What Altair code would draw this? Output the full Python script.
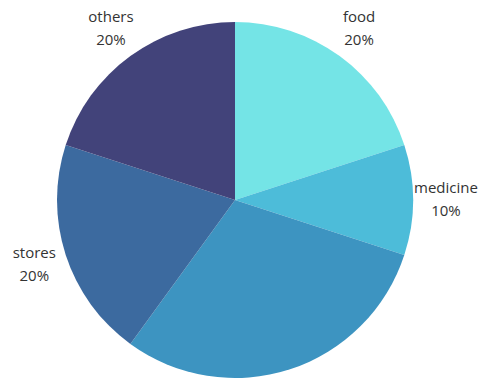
import altair as alt
import pandas as pd

categories = ["food", "medicine", "housing", "stores", "others"]
values = [20, 10, 30, 20, 20]
shown = [True, True, False, True, True]
colors = ["#74E4E6", "#4DBCD9", "#3D94C1", "#3C6A9F", "#42437A"]

df = pd.DataFrame({
    "category": categories,
    "value": values,
    "order": list(range(len(categories))),
    "label": [f"{c}\n{v}%" if s else "" for c, v, s in zip(categories, values, shown)],
})

base = alt.Chart(df).encode(
    theta=alt.Theta("value:Q", stack=True),
    order=alt.Order("order:Q"),
)

pie = base.mark_arc(outerRadius=178).encode(
    color=alt.Color("category:N", scale=alt.Scale(domain=categories, range=colors), legend=None),
    x=alt.value(235),
    y=alt.value(200),
)

text = base.mark_text(
    radius=211, fontSize=15, font="Open Sans", color="#333333",
    lineBreak="\n", lineHeight=23, align="center", baseline="middle", dy=-12,
).encode(
    text="label:N",
    x=alt.value(235),
    y=alt.value(200),
)

chart = (pie + text).properties(
    width=483, height=381, padding=0,
    autosize=alt.AutoSizeParams(type="none"),
).configure_view(stroke=None)

chart.save("out.html", embed_options={"renderer": "svg", "actions": False})
